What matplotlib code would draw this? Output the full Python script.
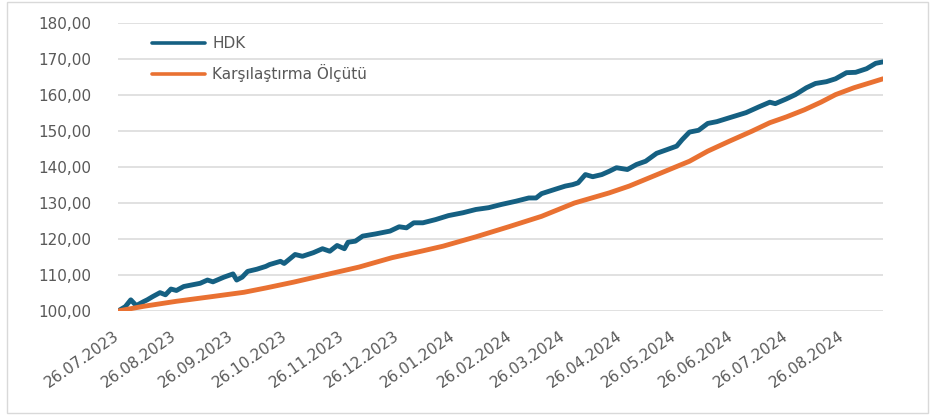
import matplotlib
matplotlib.use("Agg")
import matplotlib.pyplot as plt
import matplotlib.dates as mdates
from matplotlib.patches import Rectangle
from matplotlib.ticker import FuncFormatter, FixedLocator
import pandas as pd

# ---------------- data ----------------
hdk_dates = [
    "2023-07-26", "2023-07-30", "2023-08-02", "2023-08-05", "2023-08-09", "2023-08-11",
    "2023-08-14", "2023-08-18", "2023-08-21", "2023-08-24", "2023-08-27", "2023-08-31",
    "2023-09-05", "2023-09-09", "2023-09-13", "2023-09-16", "2023-09-22", "2023-09-27",
    "2023-09-29", "2023-10-02", "2023-10-05", "2023-10-10", "2023-10-15", "2023-10-17",
    "2023-10-23", "2023-10-25", "2023-10-31", "2023-11-04", "2023-11-10", "2023-11-15",
    "2023-11-19", "2023-11-23", "2023-11-27", "2023-11-29", "2023-12-03", "2023-12-07",
    "2023-12-14", "2023-12-22", "2023-12-27", "2023-12-31", "2024-01-04", "2024-01-09",
    "2024-01-16", "2024-01-23", "2024-01-31", "2024-02-07", "2024-02-14", "2024-02-21",
    "2024-02-29", "2024-03-07", "2024-03-11", "2024-03-14", "2024-03-22", "2024-03-27",
    "2024-03-31", "2024-04-03", "2024-04-07", "2024-04-11", "2024-04-16", "2024-04-20",
    "2024-04-24", "2024-04-30", "2024-05-05", "2024-05-10", "2024-05-16", "2024-05-21",
    "2024-05-27", "2024-05-30", "2024-06-03", "2024-06-08", "2024-06-13", "2024-06-18",
    "2024-06-25", "2024-07-04", "2024-07-11", "2024-07-17", "2024-07-20", "2024-07-26",
    "2024-07-31", "2024-08-06", "2024-08-11", "2024-08-17", "2024-08-22", "2024-08-28",
    "2024-09-02", "2024-09-08", "2024-09-13", "2024-09-17",
]
hdk_values = [
    100.0, 101.2, 103.1, 101.5, 102.6, 103.1,
    104.0, 105.1, 104.5, 106.1, 105.7, 106.8,
    107.3, 107.7, 108.6, 108.1, 109.4, 110.3,
    108.6, 109.4, 111.0, 111.6, 112.4, 112.9,
    113.8, 113.2, 115.7, 115.2, 116.2, 117.3,
    116.6, 118.2, 117.3, 119.1, 119.4, 120.8,
    121.4, 122.2, 123.4, 123.1, 124.5, 124.5,
    125.4, 126.5, 127.3, 128.2, 128.7, 129.6,
    130.5, 131.4, 131.4, 132.6, 133.9, 134.7,
    135.1, 135.6, 137.9, 137.3, 137.9, 138.8,
    139.8, 139.3, 140.7, 141.6, 143.8, 144.7,
    145.8, 147.6, 149.7, 150.2, 152.1, 152.6,
    153.7, 155.1, 156.7, 158.0, 157.6, 158.9,
    160.1, 162.0, 163.2, 163.7, 164.5, 166.2,
    166.3, 167.3, 168.8, 169.2,
]

bench_dates = [
    "2023-07-26", "2023-08-09", "2023-08-27", "2023-09-14", "2023-10-03", "2023-10-15",
    "2023-10-30", "2023-11-17", "2023-12-05", "2023-12-23", "2024-01-08", "2024-01-20",
    "2024-02-07", "2024-02-25", "2024-03-14", "2024-04-01", "2024-04-20", "2024-05-01",
    "2024-05-12", "2024-05-23", "2024-06-03", "2024-06-13", "2024-06-25", "2024-07-07",
    "2024-07-17", "2024-07-26", "2024-08-05", "2024-08-14", "2024-08-22", "2024-09-01",
    "2024-09-10", "2024-09-17",
]
bench_values = [
    100.0, 101.3, 102.7, 103.9, 105.2, 106.4,
    108.0, 110.1, 112.2, 114.8, 116.6, 118.0,
    120.6, 123.4, 126.3, 130.0, 132.8, 134.7,
    137.0, 139.3, 141.6, 144.4, 147.2, 149.9,
    152.3, 153.9, 155.9, 158.0, 160.1, 162.0,
    163.4, 164.5,
]

tick_dates = [
    "2023-07-26", "2023-08-26", "2023-09-26", "2023-10-26", "2023-11-26", "2023-12-26",
    "2024-01-26", "2024-02-26", "2024-03-26", "2024-04-26", "2024-05-26", "2024-06-26",
    "2024-07-26", "2024-08-26",
]
tick_labels = [pd.Timestamp(d).strftime("%d.%m.%Y") for d in tick_dates]
y_ticks = [100, 110, 120, 130, 140, 150, 160, 170, 180]

series_names = ["HDK", "Karşılaştırma Ölçütü"]
colors = ["#156082", "#E97132"]

# ---------------- figure ----------------
W, H = 933, 418
fig = plt.figure(figsize=(W / 100, H / 100), dpi=100)
ax = fig.add_axes([118 / W, 1 - 311 / H, (883 - 118) / W, (311 - 23) / H])

x_h = pd.to_datetime(hdk_dates)
x_b = pd.to_datetime(bench_dates)
ax.plot(x_h, hdk_values, color=colors[0], lw=3.5, solid_joinstyle="round",
        solid_capstyle="round", label=series_names[0], zorder=3)
ax.plot(x_b, bench_values, color=colors[1], lw=3.5, solid_joinstyle="round",
        solid_capstyle="round", label=series_names[1], zorder=3)

ax.set_xlim(x_h[0], x_h[-1])
ax.set_ylim(100, 180)

ax.yaxis.set_major_locator(FixedLocator(y_ticks))
ax.yaxis.set_major_formatter(FuncFormatter(lambda v, p: f"{v:.2f}".replace(".", ",")))
ax.grid(axis="y", color="#D9D9D9", lw=1.1)
ax.set_axisbelow(True)

tick_pos = mdates.date2num(pd.to_datetime(tick_dates))
ax.set_xticks(tick_pos)
ax.set_xticklabels(tick_labels, rotation=35, ha="right", va="center",
                   rotation_mode="anchor")

for s in ax.spines.values():
    s.set_visible(False)
ax.tick_params(axis="both", length=0, colors="#595959", labelsize=11)
ax.tick_params(axis="y", pad=19)
ax.tick_params(axis="x", pad=17)

leg = ax.legend(loc="upper left", bbox_to_anchor=(0.044, 0.955), frameon=False,
                fontsize=11, handlelength=3.5, handletextpad=0.45,
                labelspacing=0.85, borderpad=0, borderaxespad=0)
for t in leg.get_texts():
    t.set_color("#595959")
for h in leg.legend_handles:
    h.set_linewidth(2.6)

# outer chart border
fig.patches.append(Rectangle((7.5 / W, 1 - 412.5 / H), (928 - 7.5) / W, (412.5 - 1.5) / H,
                             transform=fig.transFigure, fill=False,
                             edgecolor="#D9D9D9", lw=1.0))

fig.savefig("out.png", dpi=100)
